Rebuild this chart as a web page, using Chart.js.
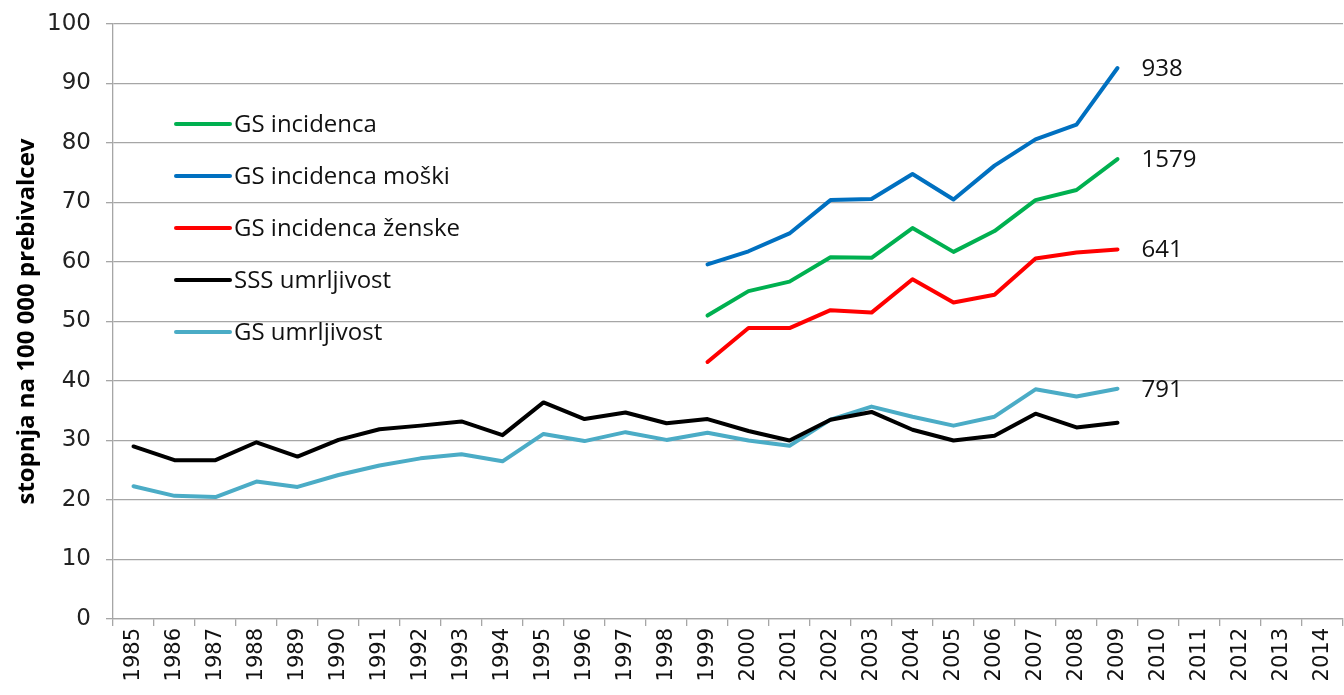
<!DOCTYPE html>
<html lang="sl">
<head>
  <meta charset="UTF-8">
  <title>GS incidenca in umrljivost</title>
  <script src="https://cdn.jsdelivr.net/npm/chart.js"></script>
  <style>
    html, body { margin: 0; padding: 0; background: #fff; }
    canvas { display: block; }
  </style>
</head>
<body>
  <canvas id="chart" width="1344" height="695"></canvas>
  <script>
    // Leta na osi x
    const years = [];
    for (let y = 1985; y <= 2014; y++) years.push(String(y));

    // Vrednosti (stopnja na 100 000 prebivalcev), null = ni podatka
    const gsIncidenca = [null, null, null, null, null, null, null, null, null, null, null, null, null, null,
      51.0, 55.1, 56.7, 60.8, 60.7, 65.7, 61.7, 65.2, 70.4, 72.1, 77.3, null, null, null, null, null];
    const gsMoski = [null, null, null, null, null, null, null, null, null, null, null, null, null, null,
      59.6, 61.8, 64.8, 70.4, 70.6, 74.8, 70.5, 76.2, 80.6, 83.1, 92.6, null, null, null, null, null];
    const gsZenske = [null, null, null, null, null, null, null, null, null, null, null, null, null, null,
      43.2, 48.9, 48.9, 51.9, 51.5, 57.1, 53.2, 54.5, 60.6, 61.6, 62.1, null, null, null, null, null];
    const sssUmrljivost = [29.0, 26.7, 26.7, 29.7, 27.3, 30.1, 31.9, 32.5, 33.2, 30.9, 36.4, 33.6, 34.7, 32.9,
      33.6, 31.6, 30.0, 33.5, 34.8, 31.8, 30.0, 30.8, 34.5, 32.2, 33.0, null, null, null, null, null];
    const gsUmrljivost = [22.3, 20.7, 20.5, 23.1, 22.2, 24.2, 25.8, 27.0, 27.7, 26.5, 31.1, 29.9, 31.4, 30.1,
      31.3, 30.0, 29.1, 33.5, 35.7, 34.0, 32.5, 34.0, 38.6, 37.4, 38.7, null, null, null, null, null];

    // Številke na koncu črt
    const endLabels = ['1579', '938', '641', null, '791'];

    const seriesNames = ['GS incidenca', 'GS incidenca moški', 'GS incidenca ženske', 'SSS umrljivost', 'GS umrljivost'];
    const seriesColors = ['#00B050', '#0070C0', '#FF0000', '#000000', '#4BACC6'];
    const seriesData = [gsIncidenca, gsMoski, gsZenske, sssUmrljivost, gsUmrljivost];

    const gridColor = '#A6A6A6';

    // Legenda znotraj grafa, levo zgoraj
    const insideLegend = {
      id: 'insideLegend',
      afterDraw(chart) {
        const ctx = chart.ctx;
        ctx.save();
        ctx.font = '24px "Open Sans"';
        ctx.textBaseline = 'middle';
        ctx.fillStyle = '#111';
        chart.data.datasets.forEach((ds, i) => {
          const y = 124 + i * 52;
          ctx.strokeStyle = ds.borderColor;
          ctx.lineWidth = 4;
          ctx.lineCap = 'round';
          ctx.beginPath();
          ctx.moveTo(176, y);
          ctx.lineTo(230, y);
          ctx.stroke();
          ctx.fillText(ds.label, 234, y + 1);
        });
        ctx.restore();
      }
    };

    // Oznake ob zadnji točki
    const endLabelPlugin = {
      id: 'endLabels',
      afterDatasetsDraw(chart) {
        const ctx = chart.ctx;
        ctx.save();
        ctx.font = '24px "Open Sans"';
        ctx.textBaseline = 'middle';
        ctx.fillStyle = '#111';
        chart.data.datasets.forEach((ds, i) => {
          if (!endLabels[i]) return;
          let last = -1;
          ds.data.forEach((v, k) => { if (v !== null) last = k; });
          const pt = chart.getDatasetMeta(i).data[last];
          ctx.fillText(endLabels[i], pt.x + 24, pt.y + 1);
        });
        ctx.restore();
      }
    };

    new Chart(document.getElementById('chart'), {
      type: 'line',
      data: {
        labels: years,
        datasets: seriesData.map((d, i) => ({
          label: seriesNames[i],
          data: d,
          borderColor: seriesColors[i],
          backgroundColor: seriesColors[i],
          borderWidth: 4,
          pointRadius: 0,
          tension: 0,
          borderCapStyle: 'round',
          borderJoinStyle: 'round',
          spanGaps: false
        }))
      },
      options: {
        responsive: false,
        animation: false,
        layout: { padding: { top: 24, right: 1, left: 0, bottom: 0 } },
        plugins: {
          legend: { display: false },
          tooltip: { enabled: false }
        },
        scales: {
          x: {
            offset: true,
            grid: {
              offset: true,
              drawOnChartArea: false,
              drawTicks: true,
              tickLength: 7,
              color: gridColor,
              lineWidth: 1.3
            },
            border: { color: gridColor, width: 1.3 },
            ticks: {
              autoSkip: false,
              maxRotation: 90,
              minRotation: 90,
              padding: 2,
              color: '#111',
              font: { family: '"DejaVu Sans"', size: 21 }
            },
            afterFit(scale) {
              scale.height = 76;
              scale.paddingLeft = 0;
              scale.paddingRight = 0;
            }
          },
          y: {
            min: 0,
            max: 100,
            ticks: {
              stepSize: 10,
              padding: 15,
              color: '#222',
              font: { family: '"DejaVu Sans"', size: 23 }
            },
            grid: {
              color: gridColor,
              lineWidth: 1.3,
              tickLength: 7
            },
            border: { color: gridColor, width: 1.3 },
            title: {
              display: true,
              text: 'stopnja na 100 000 prebivalcev',
              color: '#000',
              font: { family: '"Open Sans"', size: 24, weight: 'bold' },
              padding: { top: 13, bottom: 0 }
            },
            afterFit(scale) {
              scale.width = 113;
              scale.paddingTop = 0;
              scale.paddingBottom = 0;
            }
          }
        }
      },
      plugins: [insideLegend, endLabelPlugin]
    });
  </script>
</body>
</html>
